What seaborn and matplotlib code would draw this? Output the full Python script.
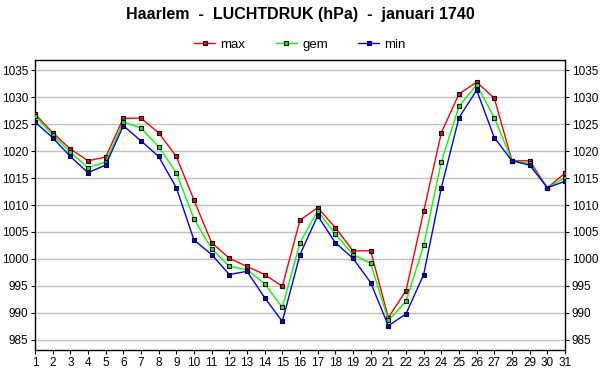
import matplotlib
matplotlib.use("Agg")
import matplotlib.pyplot as plt
import seaborn as sns
import pandas as pd

days = list(range(1, 32))
p_max = [1026.9, 1023.4, 1020.4, 1018.2, 1018.9, 1026.1, 1026.1, 1023.4, 1019.0, 1010.9,
         1003.0, 1000.1, 998.6, 997.1, 994.9, 1007.2, 1009.5, 1005.8, 1001.5, 1001.5,
         989.1, 994.1, 1008.8, 1023.4, 1030.6, 1032.8, 1029.8, 1018.2, 1018.2, 1013.2, 1015.9]
p_gem = [1026.5, 1023.0, 1019.8, 1016.9, 1018.0, 1025.4, 1024.3, 1020.8, 1016.0, 1007.4,
         1001.9, 998.6, 998.0, 995.4, 991.0, 1003.0, 1008.9, 1004.6, 1000.8, 999.2,
         988.6, 992.1, 1002.5, 1018.0, 1028.3, 1032.3, 1026.2, 1018.2, 1017.7, 1013.2, 1015.1]
p_min = [1025.4, 1022.5, 1019.0, 1016.0, 1017.4, 1024.7, 1021.9, 1019.0, 1013.2, 1003.5,
         1000.8, 997.1, 997.7, 992.8, 988.4, 1000.8, 1008.0, 1003.0, 1000.1, 995.6,
         987.6, 989.8, 997.1, 1013.2, 1026.2, 1031.3, 1022.5, 1018.2, 1017.4, 1013.2, 1014.4]
series_names = ["max", "gem", "min"]
colors = {"max": "#ff0000", "gem": "#00ff00", "min": "#0000ff"}
y_ticks = list(range(985, 1040, 5))

df = pd.DataFrame({
    "dag": days * 3,
    "druk": p_max + p_gem + p_min,
    "serie": ["max"] * 31 + ["gem"] * 31 + ["min"] * 31,
})

sns.set_style("white")
plt.rcParams["font.family"] = ["Liberation Sans", "DejaVu Sans"]
plt.rcParams["text.color"] = "black"

fig = plt.figure(figsize=(6, 3.9), dpi=100)
ax = fig.add_axes([35 / 600, 1 - 350 / 390, 530 / 600, 290 / 390])

for name in series_names:
    sub = df[df["serie"] == name]
    sns.lineplot(data=sub, x="dag", y="druk", ax=ax, color=colors[name], lw=1.0,
                 marker="s", markersize=3.4, markerfacecolor=colors[name],
                 markeredgecolor="black", markeredgewidth=0.8, label=name, zorder=3)

ax.set_xlim(1, 31)
ax.set_ylim(983.1, 1036.9)
ax.set_xticks(days)
ax.set_xticklabels([str(d) for d in days], fontsize=8.5)
ax.set_yticks(y_ticks)
ax.set_yticklabels([str(v) for v in y_ticks], fontsize=8.5)
ax.tick_params(axis="both", direction="out", length=3, width=0.8, pad=2, colors="black",
               labelcolor="black")
ax.tick_params(axis="y", right=True, labelright=True, left=True, labelleft=True)
ax.tick_params(axis="x", bottom=True)
ax.yaxis.grid(True, color="#c0c0c0", lw=1)
ax.xaxis.grid(False)
ax.set_axisbelow(True)
for s in ax.spines.values():
    s.set_color("black")
    s.set_linewidth(1)
ax.set_xlabel("")
ax.set_ylabel("")

handles, labels = ax.get_legend_handles_labels()
ax.legend_.remove()
leg = fig.legend(handles, labels, loc="center", bbox_to_anchor=(0.5, 1 - 45 / 390), ncol=3,
                 frameon=False, fontsize=9.5, handlelength=1.6, columnspacing=2.3,
                 handletextpad=0.4)
for t in leg.get_texts():
    t.set_color("black")

fig.text(0.5, 1 - 14 / 390, "Haarlem  -  LUCHTDRUK (hPa)  -  januari 1740",
         ha="center", va="center", fontsize=11.5, fontweight="bold", color="black")

fig.savefig("out.png", dpi=100)
